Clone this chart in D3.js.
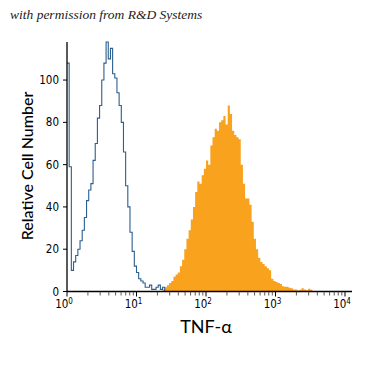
<!DOCTYPE html>
<html>
<head>
<meta charset="utf-8">
<script src="https://cdn.jsdelivr.net/npm/d3@7"></script>
<style>
    body { margin: 0; background: #fff; }
    svg { display: block; }
</style>
</head>
<body>
<svg id="chart" width="375" height="375"></svg>
<script>

// 128 log channels over 4 decades
var nBins = 128;
var decades = [1, 10, 100, 1000, 10000];
var decadeLabels = ['0', '1', '2', '3', '4'];
var yTicks = [0, 20, 40, 60, 80, 100];

// isotype control, outline (from channel 0)
var isotypeFirstBin = 0;
var isotypeCounts = [108, 59, 10, 14, 17, 20, 24, 29, 35, 43,
    48, 51, 62, 70, 82, 88, 100, 108, 118, 110,
    115, 103, 101, 94, 88, 80, 66, 50, 40, 28,
    19, 12, 9, 6, 5, 4, 2, 2, 3, 1,
    1, 2, 3, 1, 2];

// TNF-alpha stained, filled (from channel 44)
var tnfFirstBin = 44;
var tnfCounts = [1, 2, 3, 4, 5, 7, 8, 9, 12, 15,
    20, 25, 29, 34, 40, 47, 52, 51, 55, 58,
    62, 60, 69, 73, 77, 76, 80, 81, 83, 79,
    88, 84, 76, 74, 73, 72, 60, 51, 44, 44,
    41, 33, 25, 20, 16, 14, 13, 12, 11, 10,
    6, 5, 4.5, 4, 3.5, 2.5, 2.3, 2.2, 1.8, 1.5,
    1, 1, 0.5, 0.8, 1.5, 1, 0.6, 1.3, 0.8];

var svg = d3.select('#chart');

var x = d3.scaleLog().domain([1, 10000]).range([67, 345]);
var y = d3.scaleLinear().domain([0, 118]).range([291.5, 42]);

function binEdge (i) {
    return Math.pow(10, i * 4 / nBins);
}

function toSteps (counts, first) {
    var pts = counts.map(function (c, k) {
        return {lo: binEdge(first + k), count: c};
    });
    pts.push({lo: binEdge(first + counts.length), count: 0});
    return pts;
}

svg.append('text')
    .attr('x', 10)
    .attr('y', 19)
    .style('font-family', '"Liberation Serif", serif')
    .style('font-style', 'italic')
    .style('font-size', '13.5px')
    .style('fill', '#222')
    .text('with permission from R&D Systems');

// filled histogram
var area = d3.area()
    .curve(d3.curveStepAfter)
    .x(function (d) { return x(d.lo); })
    .y0(y(0))
    .y1(function (d) { return y(d.count); });

svg.append('path')
    .datum(toSteps(tnfCounts, tnfFirstBin))
    .attr('d', area)
    .style('fill', '#f8a21e')
    .style('stroke', 'none');

// outline histogram
var line = d3.line()
    .curve(d3.curveStepAfter)
    .x(function (d) { return x(d.lo); })
    .y(function (d) { return y(d.count); });

svg.append('path')
    .datum(toSteps(isotypeCounts, isotypeFirstBin))
    .attr('d', line)
    .style('fill', 'none')
    .style('stroke', '#2b5f8e')
    .style('stroke-width', 1.1);

// axes
var tickFont = '"Liberation Sans Narrow", "DejaVu Sans Condensed", sans-serif';

var xAxis = svg.append('g').attr('id', 'xAxisG');
xAxis.append('line')
    .attr('x1', 67).attr('x2', 352)
    .attr('y1', y(0)).attr('y2', y(0))
    .style('stroke', '#000').style('stroke-width', 1.3);

var minor = [];
decades.slice(0, 4).forEach(function (d) {
    for (var m = 2; m <= 9; m++) { minor.push(d * m); }
});

xAxis.selectAll('.minor').data(minor).enter().append('line')
    .attr('class', 'minor')
    .attr('x1', function (d) { return x(d); })
    .attr('x2', function (d) { return x(d); })
    .attr('y1', y(0)).attr('y2', y(0) + 4)
    .style('stroke', '#333').style('stroke-width', 0.8);

xAxis.selectAll('.major').data(decades).enter().append('line')
    .attr('class', 'major')
    .attr('x1', function (d) { return x(d); })
    .attr('x2', function (d) { return x(d); })
    .attr('y1', y(0)).attr('y2', y(0) + 5)
    .style('stroke', '#000').style('stroke-width', 1);

var xLab = xAxis.selectAll('.xlab').data(decades).enter().append('text')
    .attr('class', 'xlab')
    .attr('x', function (d) { return x(d) - 3; })
    .attr('y', 308)
    .attr('text-anchor', 'middle')
    .style('font-family', tickFont)
    .style('font-size', '11.5px');
xLab.append('tspan').text('10');
xLab.append('tspan')
    .attr('dy', -4)
    .style('font-size', '8px')
    .text(function (d, i) { return decadeLabels[i]; });

var yAxis = svg.append('g').attr('id', 'yAxisG');
yAxis.append('line')
    .attr('x1', 67).attr('x2', 67)
    .attr('y1', 42).attr('y2', y(0))
    .style('stroke', '#000').style('stroke-width', 1.3);

yAxis.selectAll('.ytick').data(yTicks).enter().append('line')
    .attr('class', 'ytick')
    .attr('x1', 63).attr('x2', 67)
    .attr('y1', function (d) { return y(d); })
    .attr('y2', function (d) { return y(d); })
    .style('stroke', '#000').style('stroke-width', 1);

yAxis.selectAll('.ylab').data(yTicks).enter().append('text')
    .attr('class', 'ylab')
    .attr('x', 59)
    .attr('y', function (d) { return y(d) + 4; })
    .attr('text-anchor', 'end')
    .style('font-family', tickFont)
    .style('font-size', '11.5px')
    .text(function (d) { return d; });

svg.append('text')
    .attr('transform', 'translate(33,166) rotate(-90)')
    .attr('text-anchor', 'middle')
    .style('font-family', 'Lato, sans-serif')
    .style('font-size', '16px')
    .style('font-weight', 500)
    .text('Relative Cell Number');

svg.append('text')
    .attr('x', 206)
    .attr('y', 333)
    .attr('text-anchor', 'middle')
    .style('font-family', 'Lato, sans-serif')
    .style('font-size', '18px')
    .text('TNF-\u03b1');

</script>
</body>
</html>
